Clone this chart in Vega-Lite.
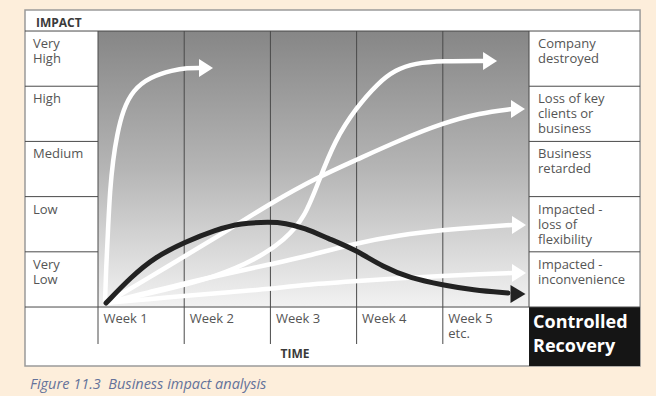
{
  "$schema": "https://vega.github.io/schema/vega-lite/v6.json",
  "width": 656,
  "height": 396,
  "padding": 0,
  "autosize": {"type": "fit", "contains": "padding"},
  "background": "#fdeedb",
  "config": {"view": {"stroke": null}, "font": "Open Sans"},
  "datasets": {
    "frame": [{"w": -0.847, "w2": 6.288, "v": -1.069, "v2": 5.38}],
    "plot": [{"w": 0, "w2": 5, "v": 0, "v2": 5}],
    "recovery": [{"w": 5, "w2": 6.288, "v": -1.069, "v2": 0}],
    "rules": [
      {"w": -0.847, "w2": 6.288, "v": 5, "v2": 5},
      {"w": -0.847, "w2": 6.288, "v": 0, "v2": 0},
      {"w": -0.847, "w2": 0, "v": 4, "v2": 4},
      {"w": -0.847, "w2": 0, "v": 3, "v2": 3},
      {"w": -0.847, "w2": 0, "v": 2, "v2": 2},
      {"w": -0.847, "w2": 0, "v": 1, "v2": 1},
      {"w": 5, "w2": 6.288, "v": 4, "v2": 4},
      {"w": 5, "w2": 6.288, "v": 3, "v2": 3},
      {"w": 5, "w2": 6.288, "v": 2, "v2": 2},
      {"w": 5, "w2": 6.288, "v": 1, "v2": 1},
      {"w": 0, "w2": 0, "v": 5, "v2": -0.67},
      {"w": 1, "w2": 1, "v": 5, "v2": -0.67},
      {"w": 2, "w2": 2, "v": 5, "v2": -0.67},
      {"w": 3, "w2": 3, "v": 5, "v2": -0.67},
      {"w": 4, "w2": 4, "v": 5, "v2": -0.67},
      {"w": 5, "w2": 5, "v": 5, "v2": 0}
    ],
    "curves": [
      {"curve": "A", "o": 1, "w": 0.081, "v": 0.072},
      {"curve": "A", "o": 2, "w": 0.093, "v": 0.67},
      {"curve": "A", "o": 3, "w": 0.116, "v": 1.395},
      {"curve": "A", "o": 4, "w": 0.139, "v": 2.12},
      {"curve": "A", "o": 5, "w": 0.174, "v": 2.663},
      {"curve": "A", "o": 6, "w": 0.22, "v": 3.116},
      {"curve": "A", "o": 7, "w": 0.29, "v": 3.569},
      {"curve": "A", "o": 8, "w": 0.406, "v": 3.931},
      {"curve": "A", "o": 9, "w": 0.603, "v": 4.167},
      {"curve": "A", "o": 10, "w": 0.87, "v": 4.293},
      {"curve": "A", "o": 11, "w": 1.032, "v": 4.33},
      {"curve": "A", "o": 12, "w": 1.195, "v": 4.33},
      {"curve": "B", "o": 1, "w": 0.093, "v": 0.072},
      {"curve": "B", "o": 2, "w": 0.777, "v": 0.308},
      {"curve": "B", "o": 3, "w": 1.357, "v": 0.543},
      {"curve": "B", "o": 4, "w": 1.821, "v": 0.851},
      {"curve": "B", "o": 5, "w": 2.169, "v": 1.214},
      {"curve": "B", "o": 6, "w": 2.401, "v": 1.63},
      {"curve": "B", "o": 7, "w": 2.552, "v": 2.246},
      {"curve": "B", "o": 8, "w": 2.749, "v": 3.025},
      {"curve": "B", "o": 9, "w": 2.993, "v": 3.605},
      {"curve": "B", "o": 10, "w": 3.248, "v": 4.058},
      {"curve": "B", "o": 11, "w": 3.445, "v": 4.293},
      {"curve": "B", "o": 12, "w": 3.677, "v": 4.42},
      {"curve": "B", "o": 13, "w": 4.002, "v": 4.457},
      {"curve": "B", "o": 14, "w": 4.478, "v": 4.457},
      {"curve": "C", "o": 1, "w": 0.093, "v": 0.072},
      {"curve": "C", "o": 2, "w": 0.603, "v": 0.543},
      {"curve": "C", "o": 3, "w": 1.009, "v": 0.924},
      {"curve": "C", "o": 4, "w": 1.531, "v": 1.413},
      {"curve": "C", "o": 5, "w": 2.007, "v": 1.884},
      {"curve": "C", "o": 6, "w": 2.552, "v": 2.355},
      {"curve": "C", "o": 7, "w": 2.993, "v": 2.663},
      {"curve": "C", "o": 8, "w": 3.503, "v": 3.025},
      {"curve": "C", "o": 9, "w": 4.002, "v": 3.333},
      {"curve": "C", "o": 10, "w": 4.432, "v": 3.514},
      {"curve": "C", "o": 11, "w": 4.803, "v": 3.587},
      {"curve": "D", "o": 1, "w": 0.093, "v": 0.072},
      {"curve": "D", "o": 2, "w": 0.603, "v": 0.272},
      {"curve": "D", "o": 3, "w": 1.009, "v": 0.435},
      {"curve": "D", "o": 4, "w": 1.531, "v": 0.616},
      {"curve": "D", "o": 5, "w": 2.007, "v": 0.779},
      {"curve": "D", "o": 6, "w": 2.343, "v": 0.888},
      {"curve": "D", "o": 7, "w": 2.993, "v": 1.159},
      {"curve": "D", "o": 8, "w": 3.503, "v": 1.304},
      {"curve": "D", "o": 9, "w": 4.002, "v": 1.395},
      {"curve": "D", "o": 10, "w": 4.432, "v": 1.449},
      {"curve": "D", "o": 11, "w": 4.803, "v": 1.486},
      {"curve": "E", "o": 1, "w": 0.093, "v": 0.072},
      {"curve": "E", "o": 2, "w": 0.603, "v": 0.145},
      {"curve": "E", "o": 3, "w": 1.009, "v": 0.199},
      {"curve": "E", "o": 4, "w": 1.531, "v": 0.272},
      {"curve": "E", "o": 5, "w": 2.007, "v": 0.326},
      {"curve": "E", "o": 6, "w": 2.343, "v": 0.399},
      {"curve": "E", "o": 7, "w": 2.993, "v": 0.471},
      {"curve": "E", "o": 8, "w": 3.503, "v": 0.525},
      {"curve": "E", "o": 9, "w": 4.002, "v": 0.562},
      {"curve": "E", "o": 10, "w": 4.432, "v": 0.598},
      {"curve": "E", "o": 11, "w": 4.803, "v": 0.616}
    ],
    "recoveryCurve": [
      {"o": 1, "w": 0.093, "v": 0.072},
      {"o": 2, "w": 0.383, "v": 0.543},
      {"o": 3, "w": 0.661, "v": 0.906},
      {"o": 4, "w": 1.009, "v": 1.178},
      {"o": 5, "w": 1.357, "v": 1.395},
      {"o": 6, "w": 1.659, "v": 1.522},
      {"o": 7, "w": 1.995, "v": 1.54},
      {"o": 8, "w": 2.169, "v": 1.522},
      {"o": 9, "w": 2.401, "v": 1.431},
      {"o": 10, "w": 2.657, "v": 1.25},
      {"o": 11, "w": 2.993, "v": 1.033},
      {"o": 12, "w": 3.306, "v": 0.725},
      {"o": 13, "w": 3.619, "v": 0.525},
      {"o": 14, "w": 4.002, "v": 0.399},
      {"o": 15, "w": 4.35, "v": 0.308},
      {"o": 16, "w": 4.756, "v": 0.254}
    ],
    "whiteArrows": [
      {"curve": "A", "w": 1.253, "v": 4.33},
      {"curve": "B", "w": 4.548, "v": 4.457},
      {"curve": "C", "w": 4.872, "v": 3.587},
      {"curve": "D", "w": 4.884, "v": 1.486},
      {"curve": "E", "w": 4.884, "v": 0.616}
    ],
    "blackArrow": [{"w": 4.872, "v": 0.236}],
    "leftLabels": [
      {"text": "Very\nHigh", "w": -0.847, "v": 5},
      {"text": "High", "w": -0.847, "v": 4},
      {"text": "Medium", "w": -0.847, "v": 3},
      {"text": "Low", "w": -0.847, "v": 2},
      {"text": "Very\nLow", "w": -0.847, "v": 1}
    ],
    "rightLabels": [
      {"text": "Company\ndestroyed", "w": 5, "v": 5},
      {"text": "Loss of key\nclients or\nbusiness", "w": 5, "v": 4},
      {"text": "Business\nretarded", "w": 5, "v": 3},
      {"text": "Impacted -\nloss of\nflexibility", "w": 5, "v": 2},
      {"text": "Impacted -\ninconvenience", "w": 5, "v": 1}
    ],
    "weeks": [
      {"text": "Week 1", "w": 0, "v": 0},
      {"text": "Week 2", "w": 1, "v": 0},
      {"text": "Week 3", "w": 2, "v": 0},
      {"text": "Week 4", "w": 3, "v": 0},
      {"text": "Week 5\netc.", "w": 4, "v": 0}
    ],
    "impact": [{"text": "IMPACT", "w": -0.847, "v": 5}],
    "time": [{"text": "TIME", "w": 2.285, "v": -1.069}],
    "recoveryLabel": [{"text": "Controlled\nRecovery", "w": 5, "v": 0}],
    "caption": [{"text": "Figure 11.3\u00a0 Business impact analysis", "w": -0.847, "v": -1.069}]
  },
  "encoding": {
    "x": {"field": "w", "type": "quantitative", "scale": {"domain": [-1.137, 6.473], "nice": false, "zero": false}, "axis": null},
    "y": {"field": "v", "type": "quantitative", "scale": {"domain": [-1.612, 5.562], "nice": false, "zero": false}, "axis": null}
  },
  "layer": [
    {
      "data": {"name": "frame"},
      "mark": {"type": "rect", "fill": "#ffffff", "stroke": "#9a9a9a", "strokeWidth": 1.5},
      "encoding": {"x2": {"field": "w2"}, "y2": {"field": "v2"}}
    },
    {
      "data": {"name": "plot"},
      "mark": {
        "type": "rect",
        "fill": {"gradient": "linear", "x1": 0, "y1": 0, "x2": 0, "y2": 1,
          "stops": [
            {"offset": 0, "color": "#868686"},
            {"offset": 0.5, "color": "#b5b5b5"},
            {"offset": 1, "color": "#f2f2f2"}
          ]}
      },
      "encoding": {"x2": {"field": "w2"}, "y2": {"field": "v2"}}
    },
    {
      "data": {"name": "recovery"},
      "mark": {"type": "rect", "fill": "#151515"},
      "encoding": {"x2": {"field": "w2"}, "y2": {"field": "v2"}}
    },
    {
      "data": {"name": "rules"},
      "mark": {"type": "rule", "stroke": "#4a4a4a", "strokeWidth": 1},
      "encoding": {"x2": {"field": "w2"}, "y2": {"field": "v2"}}
    },
    {
      "data": {"name": "curves"},
      "mark": {"type": "line", "stroke": "#ffffff", "strokeWidth": 4.5, "interpolate": "basis", "strokeCap": "round"},
      "encoding": {"detail": {"field": "curve"}, "order": {"field": "o", "type": "quantitative"}}
    },
    {
      "data": {"name": "whiteArrows"},
      "mark": {"type": "point", "shape": "M-1,-1.3L1,0L-1,1.3Z", "size": 196, "filled": true, "fill": "#ffffff", "opacity": 1, "strokeWidth": 0}
    },
    {
      "data": {"name": "recoveryCurve"},
      "mark": {"type": "line", "stroke": "#222222", "strokeWidth": 5, "interpolate": "basis", "strokeCap": "round"},
      "encoding": {"order": {"field": "o", "type": "quantitative"}}
    },
    {
      "data": {"name": "blackArrow"},
      "mark": {"type": "point", "shape": "M-1,-1.2L1,0L-1,1.2Z", "size": 225, "filled": true, "fill": "#222222", "opacity": 1, "strokeWidth": 0}
    },
    {
      "data": {"name": "leftLabels"},
      "mark": {"type": "text", "align": "left", "baseline": "alphabetic", "dx": 8, "dy": 17, "fontSize": 13, "lineHeight": 15, "lineBreak": "\n", "fill": "#555555"},
      "encoding": {"text": {"field": "text"}}
    },
    {
      "data": {"name": "rightLabels"},
      "mark": {"type": "text", "align": "left", "baseline": "alphabetic", "dx": 9, "dy": 17, "fontSize": 13, "lineHeight": 15, "lineBreak": "\n", "fill": "#555555"},
      "encoding": {"text": {"field": "text"}}
    },
    {
      "data": {"name": "weeks"},
      "mark": {"type": "text", "align": "left", "baseline": "alphabetic", "dx": 5.5, "dy": 16, "fontSize": 13, "lineHeight": 14.5, "lineBreak": "\n", "fill": "#555555"},
      "encoding": {"text": {"field": "text"}}
    },
    {
      "data": {"name": "impact"},
      "mark": {"type": "text", "align": "left", "baseline": "alphabetic", "dx": 11, "dy": -4, "fontSize": 12, "fontWeight": "bold", "fill": "#3a3a3a"},
      "encoding": {"text": {"field": "text"}}
    },
    {
      "data": {"name": "time"},
      "mark": {"type": "text", "align": "center", "baseline": "alphabetic", "dy": -8, "fontSize": 12, "fontWeight": "bold", "fill": "#3a3a3a"},
      "encoding": {"text": {"field": "text"}}
    },
    {
      "data": {"name": "recoveryLabel"},
      "mark": {"type": "text", "align": "left", "baseline": "alphabetic", "dx": 4, "dy": 21, "fontSize": 18, "lineHeight": 24, "lineBreak": "\n", "fontWeight": "bold", "fill": "#ffffff"},
      "encoding": {"text": {"field": "text"}}
    },
    {
      "data": {"name": "caption"},
      "mark": {"type": "text", "align": "left", "baseline": "alphabetic", "dx": 5, "dy": 23, "fontSize": 14.5, "fontStyle": "italic", "fill": "#64729a"},
      "encoding": {"text": {"field": "text"}}
    }
  ]
}
